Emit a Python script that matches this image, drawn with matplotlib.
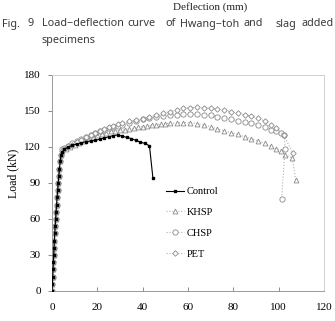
import matplotlib
matplotlib.use("Agg")
from matplotlib import pyplot as plt

# initial (elastic) branch, shared shape
rise_x = [0, 0.15, 0.3, 0.45, 0.6, 0.75, 0.9, 1.05, 1.2, 1.4, 1.6, 1.8, 2.0, 2.25, 2.5, 2.75, 3.0, 3.3, 3.6, 4.0]
rise_y = [0, 6, 12, 18, 24, 30, 36, 42, 48, 54, 60, 66, 72, 78, 84, 90, 96, 102, 108, 113]

control_x = rise_x + [4.5, 5.5, 7, 9, 11, 13, 15, 17, 19, 21, 23, 25, 27, 29, 31, 33, 35, 37, 39, 41, 43, 44.5]
control_y = rise_y + [116, 118, 120, 121.5, 122.5, 123.5, 124.5, 125, 125.5, 126.5, 127.5, 128.5, 129.5, 130, 129, 128, 127, 125.5, 124, 123, 121, 94.5]

khsp_x = rise_x + [4.5, 6, 8, 10, 12, 14, 16, 18, 20, 22, 24, 26, 28, 30, 32, 34, 36, 38, 40, 42, 44, 46, 48, 50,
                   52, 55, 58, 61, 64, 67, 70, 73, 76, 79, 82, 85, 88, 91, 94, 96.5, 99, 101, 103, 106, 107.5]
khsp_y = rise_y + [117, 118.5, 120, 121.5, 123, 125, 127, 128.5, 130, 131, 132, 133, 133.5, 134, 134.5, 135, 135.5,
                   136.5, 137, 137.5, 138, 138.5, 139, 139.5, 139.7, 140, 140.3, 140.3, 139.5, 138.3, 137, 135,
                   133.5, 132, 130.5, 128.5, 127, 125, 123, 120.5, 118.5, 116.5, 113.5, 111, 92.5]

chsp_x = rise_x + [4.5, 5.5, 7, 9, 11, 13, 15, 17, 19, 21, 23, 25, 27, 29, 31, 34, 37, 40, 43, 46, 49, 52, 55,
                   58, 61, 64, 67, 70, 73, 76, 79, 82, 85, 88, 91, 94, 96.5, 99, 101, 102.5, 102.8, 101.3]
chsp_y = rise_y + [118, 119.5, 121, 123, 125, 127, 128.5, 130, 131.5, 133, 134, 135.5, 136.5, 137.5, 138.5, 140,
                   141.5, 143, 144, 145, 146, 146.5, 147, 147.3, 147.3, 147.2, 147, 146.5, 145.3, 144.3, 143, 142,
                   141, 140, 138.5, 137, 134.5, 133, 131.5, 130, 118.5, 76.5]

pet_x = rise_x + [4.5, 5.5, 7, 9, 11, 13, 15, 17, 19, 21, 23, 25, 27, 29, 31, 34, 37, 40, 43, 46, 49, 52, 55,
                  58, 61, 64, 67, 70, 73, 76, 79, 82, 85, 88, 91, 94, 96.5, 99, 102.2, 106.2]
pet_y = rise_y + [117, 118.5, 120.5, 122, 124, 126, 128, 130, 132, 133.5, 135, 136.5, 137.5, 139, 140, 141.5,
                  142.5, 143.5, 145, 146.5, 148, 149.5, 151, 152.2, 152.8, 153, 152.8, 152.2, 151.6, 150.8, 149.4,
                  148, 147, 145.8, 143.9, 141.5, 138.5, 135.5, 130, 115.3]

xticks = [0, 20, 40, 60, 80, 100, 120]
yticks = [0, 30, 60, 90, 120, 150, 180]

serif = "Liberation Serif"
gray = "#8a8a8a"
plt.rcParams["font.family"] = [serif, "DejaVu Serif"]

fig = plt.figure(figsize=(3.35, 3.21), dpi=100)
ax = fig.add_axes([52 / 335, 1 - 291 / 321, 272 / 335, 216 / 321])

ax.plot(khsp_x, khsp_y, linestyle=":", color="#b0b0b0", linewidth=0.8, marker="^", markersize=3.5,
        markerfacecolor="white", markeredgecolor=gray, markeredgewidth=0.6, label="KHSP", zorder=2)
ax.plot(chsp_x, chsp_y, linestyle=":", color="#b0b0b0", linewidth=0.8, marker="o", markersize=3.8,
        markerfacecolor="white", markeredgecolor=gray, markeredgewidth=0.6, label="CHSP", zorder=2)
ax.plot(pet_x, pet_y, linestyle=":", color="#b0b0b0", linewidth=0.8, marker="D", markersize=2.8,
        markerfacecolor="white", markeredgecolor=gray, markeredgewidth=0.6, label="PET", zorder=2)
ax.plot(control_x, control_y, linestyle="-", color="black", linewidth=0.8, marker="s", markersize=2.0,
        markerfacecolor="black", markeredgecolor="black", label="Control", zorder=3)

ax.set_xlim(0, 120)
ax.set_ylim(0, 180)
ax.set_xticks(xticks)
ax.set_yticks(yticks)
ax.tick_params(axis="x", direction="in", length=3, width=0.6, color="#777777", labelsize=8, pad=9)
ax.tick_params(axis="y", direction="out", length=3, width=0.6, color="#777777", labelsize=8, pad=5)
for side in ["top", "right"]:
    ax.spines[side].set_color("#d0d0d0")
    ax.spines[side].set_linewidth(0.7)
for side in ["bottom", "left"]:
    ax.spines[side].set_color("#999999")
    ax.spines[side].set_linewidth(0.7)

fig.text(13 / 335, 1 - 173 / 321, "Load (kN)", fontsize=8.5, rotation=90, ha="center", va="center")

handles, labels = ax.get_legend_handles_labels()
order = [3, 0, 1, 2]
ax.legend([handles[i] for i in order], [labels[i] for i in order], loc="upper left",
          bbox_to_anchor=(166 / 335, 1 - 187 / 321), bbox_transform=fig.transFigure,
          frameon=False, prop={"size": 7.5}, handlelength=1.7, handletextpad=0.3,
          labelspacing=1.1, borderpad=0, borderaxespad=0)

# axis title of the previous figure, at the very top
fig.text(210 / 335, 1 - 7 / 321, "Deflection (mm)", fontsize=8,
         ha="center", va="center", color="#222222")

# justified caption
caption_words = [("Fig.", 2), ("9", 28), ("Load−deflection", 42), ("curve", 127), ("of", 165),
                 ("Hwang−toh", 180), ("and", 243), ("slag", 275), ("added", 302)]
for word, px in caption_words:
    fig.text(px / 335, 1 - 24 / 321, word, fontfamily="Noto Sans", fontsize=7.8,
             ha="left", va="center", color="#3a3a3a")
fig.text(42 / 335, 1 - 40 / 321, "specimens", fontfamily="Noto Sans", fontsize=7.8,
         ha="left", va="center", color="#3a3a3a")

fig.savefig("out.png", dpi=100)
